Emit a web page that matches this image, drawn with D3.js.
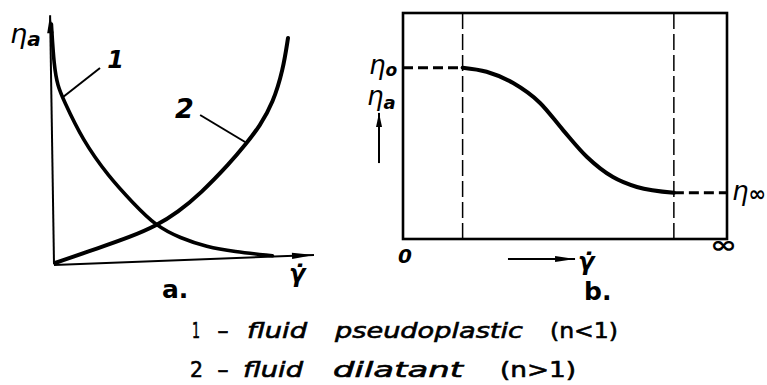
<!DOCTYPE html>
<html>
<head>
<meta charset="utf-8">
<script src="https://cdn.jsdelivr.net/npm/d3@7"></script>
<style>
  body { margin: 0; background: #fff; }
  svg { display: block; }
  text { font-family: "DejaVu Sans", sans-serif; fill: #000; }
</style>
</head>
<body>
<svg id="chart" width="767" height="385"></svg>
<script>
// ---- Panel a: apparent viscosity against shear rate (arbitrary units 0..10) ----
const pseudoplasticCurve = [[-0.1, 9.6], [0.0, 7.9], [0.15, 7.1], [0.35, 6.6], [1.1, 4.95],
                            [2.1, 3.5], [3.04, 2.44], [3.92, 1.52], [4.85, 1.04], [5.88, 0.68],
                            [6.9, 0.5], [8.4, 0.33]];
const dilatantCurve = [[0.04, 0.04], [1.77, 0.66], [2.92, 1.08], [3.92, 1.52], [4.77, 2.08],
                       [5.62, 2.80], [6.77, 4.04], [7.35, 4.76], [7.92, 5.52], [8.42, 6.44],
                       [8.81, 7.76], [9.0, 9.04]];
const axisYLine = [[0.0, 0.0], [-0.15, 9.95]];
const axisXLine = [[0.0, -0.04], [10.0, 0.36]];
const curveLabels = ["1", "2"];
const leader1 = [[1.77, 7.84], [0.35, 6.68]];
const leader2 = [[5.62, 5.96], [7.35, 4.88]];

// ---- Panel b: flow curve with the two Newtonian plateaus ----
const viscosityCurve = [[1.84, 7.58], [2.58, 7.40], [3.40, 6.90], [4.23, 6.02], [4.94, 4.82],
                        [5.68, 3.63], [6.48, 2.74], [7.22, 2.30], [8.36, 2.05]];
const eta0 = 7.58;
const etaInf = 2.05;
const plateauBounds = [1.84, 8.36];
const rateTicks = ["0", "\u221E"];
const panelCaptions = ["a.", "b."];

// ---- Legend ----
const legendLines = [
  ["1", "-", "fluid", "pseudoplastic", "(n<1)"],
  ["2", "-", "fluid", "dilatant", "(n>1)"]
];

const svg = d3.select("#chart");

// filled triangular arrowhead at the end of segment p0->p1 (pixel coords)
function arrowHead(g, p0, p1, len, half) {
  const dx = p1[0] - p0[0], dy = p1[1] - p0[1];
  const L = Math.hypot(dx, dy), ux = dx / L, uy = dy / L;
  const bx = p1[0] - ux * len, by = p1[1] - uy * len;
  g.append("path")
    .attr("d", `M${p1[0]},${p1[1]}L${bx - uy * half},${by + ux * half}L${bx + uy * half},${by - ux * half}Z`)
    .attr("fill", "#000");
}

// ---------- Panel a ----------
const xA = d3.scaleLinear().domain([0, 10]).range([54, 314]);
const yA = d3.scaleLinear().domain([0, 10]).range([264, 14]);
const lineA = d3.line().x(d => xA(d[0])).y(d => yA(d[1]));
const smoothA = d3.line().x(d => xA(d[0])).y(d => yA(d[1])).curve(d3.curveBasis);

const gA = svg.append("g");

gA.append("path").attr("d", lineA(axisYLine)).attr("stroke", "#000").attr("stroke-width", 2).attr("fill", "none");
gA.append("path").attr("d", lineA(axisXLine)).attr("stroke", "#000").attr("stroke-width", 2).attr("fill", "none");
arrowHead(gA, [xA(axisYLine[0][0]), yA(axisYLine[0][1])], [xA(axisYLine[1][0]), yA(axisYLine[1][1])], 18, 3.2);
arrowHead(gA, [xA(axisXLine[0][0]), yA(axisXLine[0][1])], [xA(axisXLine[1][0]), yA(axisXLine[1][1])], 22, 3.2);

gA.append("path").attr("d", smoothA(pseudoplasticCurve))
  .attr("stroke", "#000").attr("stroke-width", 3.6).attr("fill", "none").attr("stroke-linecap", "round");
gA.append("path").attr("d", smoothA(dilatantCurve))
  .attr("stroke", "#000").attr("stroke-width", 4).attr("fill", "none").attr("stroke-linecap", "round");

[leader1, leader2].forEach(seg => {
  gA.append("path").attr("d", lineA(seg)).attr("stroke", "#000").attr("stroke-width", 2).attr("fill", "none");
});
gA.append("text").attr("x", xA(2.05)).attr("y", yA(7.84)).attr("font-size", 24)
  .attr("font-style", "italic").attr("font-weight", "bold").text(curveLabels[0]);
gA.append("text").attr("x", xA(4.65)).attr("y", yA(5.84)).attr("font-size", 27)
  .attr("font-style", "italic").attr("font-weight", "bold").text(curveLabels[1]);

// axis titles
const etaA = gA.append("text").attr("x", 10).attr("y", 43).attr("font-size", 27).attr("font-style", "italic");
etaA.append("tspan").text("\u03B7");
etaA.append("tspan").attr("font-size", 20).attr("font-weight", "bold").attr("dy", 3).text("a");
gA.append("text").attr("x", 289).attr("y", 282).attr("font-size", 24).attr("font-style", "italic")
  .attr("font-weight", "bold").text("\u03B3\u0307");
gA.append("text").attr("x", 162).attr("y", 298).attr("font-size", 25).attr("font-weight", "bold").text(panelCaptions[0]);

// ---------- Panel b ----------
const xB = d3.scaleLinear().domain([0, 10]).range([403, 727]);
const yB = d3.scaleLinear().domain([0, 10]).range([239, 13]);
const lineB = d3.line().x(d => xB(d[0])).y(d => yB(d[1]));
const smoothB = d3.line().x(d => xB(d[0])).y(d => yB(d[1])).curve(d3.curveMonotoneX);

const gB = svg.append("g");
gB.append("rect")
  .attr("x", xB(0)).attr("y", yB(10))
  .attr("width", xB(10) - xB(0)).attr("height", yB(0) - yB(10))
  .attr("fill", "none").attr("stroke", "#000").attr("stroke-width", 2.6);

plateauBounds.forEach(v => {
  gB.append("path").attr("d", lineB([[v, 0], [v, 10]]))
    .attr("stroke", "#000").attr("stroke-width", 1.5).attr("stroke-dasharray", "16,5").attr("fill", "none");
});
gB.append("path").attr("d", lineB([[0, eta0], [plateauBounds[0], eta0]]))
  .attr("stroke", "#000").attr("stroke-width", 3).attr("stroke-dasharray", "10,5").attr("fill", "none");
gB.append("path").attr("d", lineB([[plateauBounds[1], etaInf], [10, etaInf]]))
  .attr("stroke", "#000").attr("stroke-width", 3).attr("stroke-dasharray", "10,5").attr("fill", "none");

gB.append("path").attr("d", smoothB(viscosityCurve))
  .attr("stroke", "#000").attr("stroke-width", 4).attr("fill", "none").attr("stroke-linecap", "round");

// level labels
function etaLabel(g, x, y, sub, subSize, subDy) {
  const t = g.append("text").attr("x", x).attr("y", y).attr("font-size", 26).attr("font-style", "italic");
  t.append("tspan").text("\u03B7");
  t.append("tspan").attr("font-size", subSize).attr("font-weight", "bold").attr("dy", subDy).text(sub);
}
etaLabel(gB, 369, yB(eta0) + 6, "o", 17, 2);
etaLabel(gB, 367, 105, "a", 18, 4);
etaLabel(gB, 732, yB(etaInf) + 7, "\u221E", 21, 1);

// up arrow beside the vertical title
const upArrow = [[-0.74, 3.36], [-0.74, 5.58]];
gB.append("path").attr("d", lineB(upArrow)).attr("stroke", "#000").attr("stroke-width", 2).attr("fill", "none");
arrowHead(gB, [xB(upArrow[0][0]), yB(upArrow[0][1])], [xB(upArrow[1][0]), yB(upArrow[1][1])], 14, 3);

// shear rate direction arrow
const rightArrow = [[3.24, -0.88], [5.31, -0.88]];
gB.append("path").attr("d", lineB(rightArrow)).attr("stroke", "#000").attr("stroke-width", 2).attr("fill", "none");
arrowHead(gB, [xB(rightArrow[0][0]), yB(rightArrow[0][1])], [xB(rightArrow[1][0]), yB(rightArrow[1][1])], 20, 3);

gB.append("text").attr("x", xB(0) - 5).attr("y", 263).attr("font-size", 20).attr("font-style", "italic")
  .attr("font-weight", "bold").text(rateTicks[0]);
gB.append("text").attr("x", xB(10) - 17).attr("y", 253).attr("font-size", 24)
  .attr("font-weight", "bold").attr("textLength", 27).attr("lengthAdjust", "spacingAndGlyphs").text(rateTicks[1]);
gB.append("text").attr("x", 578).attr("y", 270).attr("font-size", 24).attr("font-style", "italic")
  .attr("font-weight", "bold").text("\u03B3\u0307");
gB.append("text").attr("x", 584).attr("y", 300).attr("font-size", 25).attr("font-weight", "bold").text(panelCaptions[1]);

// ---------- Legend ----------
const legendLayout = [
  { y: 338, cols: [[192, 8], [217, 12], [247, 60], [335, 188], [550, 68]] },
  { y: 377, cols: [[190, 13], [217, 12], [243, 60], [333, 130], [500, 76]] }
];
const gL = svg.append("g");
legendLines.forEach((words, i) => {
  const lay = legendLayout[i];
  words.forEach((w, j) => {
    const [x, width] = lay.cols[j];
    const t = gL.append("text").attr("x", x).attr("y", lay.y).attr("font-size", 22)
      .attr("stroke", "#000").attr("stroke-width", 0.6)
      .attr("textLength", width).attr("lengthAdjust", "spacingAndGlyphs").text(w);
    if (j >= 2 && j <= 3) t.attr("font-style", "italic");
  });
});
</script>
</body>
</html>
